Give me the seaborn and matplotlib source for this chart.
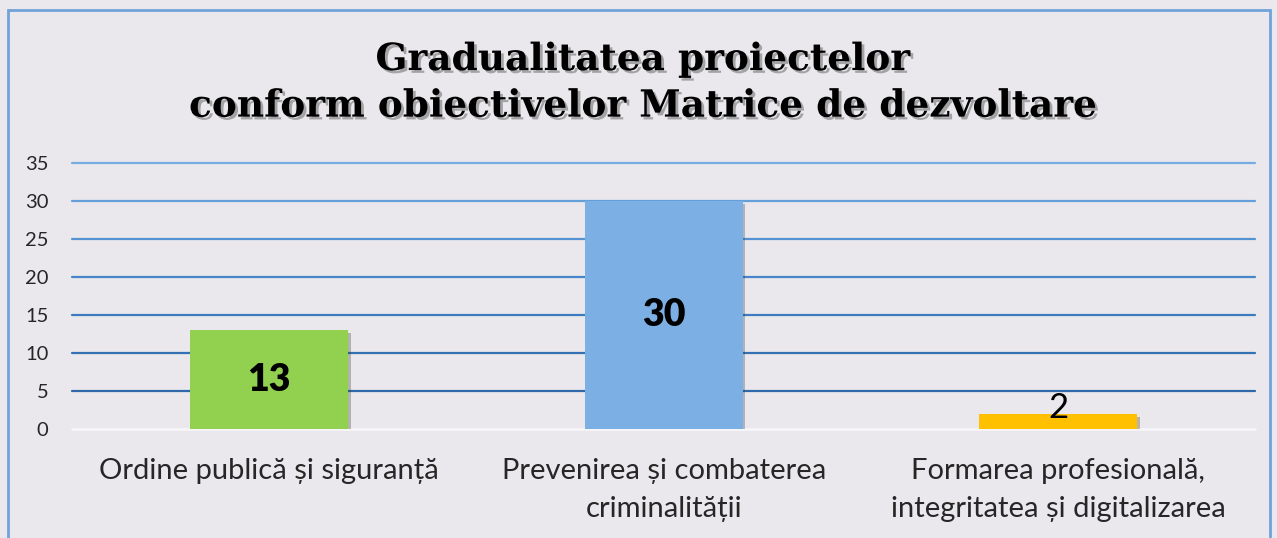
import matplotlib.pyplot as plt
import matplotlib.patheffects as pe
from matplotlib.patches import Rectangle
import seaborn as sns
import pandas as pd

categories = ['Ordine publică și siguranță',
              'Prevenirea și combaterea\ncriminalității',
              'Formarea profesională,\nintegritatea și digitalizarea']
values = [13, 30, 2]
bar_colors = ['#92D050', '#7CAFE3', '#FFC000']
yticks = [0, 5, 10, 15, 20, 25, 30, 35]
grid_colors = ['#2F69AA', '#3471B3', '#3B7BBE', '#4686C8', '#5592D2', '#659FDA', '#76ACE2']
title = 'Gradualitatea proiectelor\nconform obiectivelor Matrice de dezvoltare'

df = pd.DataFrame({'cat': categories, 'val': values})

sns.set_style('white')
plt.rcParams['font.family'] = ['Lato', 'DejaVu Sans']

bg = '#EAE8EC'
fig = plt.figure(figsize=(12.77, 5.38), dpi=100, facecolor=bg)
ax = fig.add_axes([0.0564, 0.2026, 0.9266, 0.4944])
ax.set_facecolor(bg)

# outer chart border
fig.patches.append(Rectangle((8 / 1277, -0.01), 1262 / 1277, 1 - 10 / 538 + 0.01,
                             transform=fig.transFigure, fill=False,
                             edgecolor='#6FA3DA', linewidth=2))

# gridlines, darker towards the bottom
for y, c in zip(yticks[1:], grid_colors):
    ax.axhline(y, color=c, linewidth=1.6, zorder=0, clip_on=False)
ax.axhline(0, color='#F6F6F8', linewidth=2, zorder=0, clip_on=False)

sns.barplot(data=df, x='cat', y='val', hue='cat', palette=bar_colors,
            width=0.4, legend=False, ax=ax, zorder=3, saturation=1,
            edgecolor='none')
for p in ax.patches:
    p.set_path_effects([pe.SimplePatchShadow(offset=(2, -2), alpha=0.3), pe.Normal()])

for i, v in enumerate(values):
    if v > 5:
        ax.text(i, v / 2, str(v), ha='center', va='center', fontsize=27,
                fontweight='heavy', color='black', zorder=5)
    else:
        ax.text(i, v + 0.8, str(v), ha='center', va='center', fontsize=25,
                color='black', zorder=5)

ax.set_ylim(0, 35)
ax.set_xlim(-0.5, 2.5)
ax.set_yticks(yticks)
ax.tick_params(axis='y', labelsize=14.5, length=0, pad=17)
ax.tick_params(axis='x', labelsize=21, length=0, pad=21)
ax.set_xlabel('')
ax.set_ylabel('')
sns.despine(ax=ax, left=True, bottom=True, top=True, right=True)
for lbl in ax.get_xticklabels():
    lbl.set_linespacing(1.55)

fig.text(0.503, 0.846, title, ha='center', va='center', fontsize=27,
         fontweight='bold', family='DejaVu Serif', linespacing=1.33, color='black',
         path_effects=[pe.withSimplePatchShadow(offset=(2, -2), alpha=0.3)])

fig.savefig('out.png', dpi=100, facecolor=bg)
